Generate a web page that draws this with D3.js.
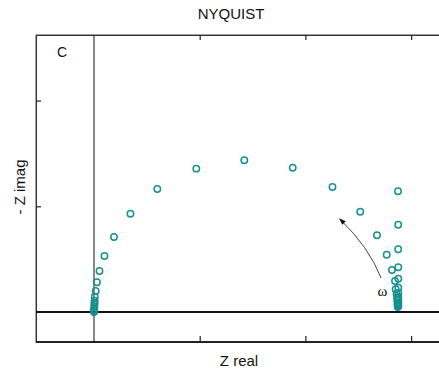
<!DOCTYPE html>
<html>
<head>
<meta charset="utf-8">
<script src="https://cdn.jsdelivr.net/npm/d3@7"></script>
<style>
  html, body { margin: 0; padding: 0; background: #fff; }
  svg { display: block; }
  text { font-family: "Liberation Sans", Arial, sans-serif; fill: #111; }
</style>
</head>
<body>
<svg id="chart" width="439" height="372"></svg>
<script>
// Impedance spectrum: semicircle (parallel RC) and the capacitive branch
const arcZReal = [0.000, 0.000, 0.000, 0.003, 0.004, 0.005, 0.006, 0.007, 0.016, 0.028,
                  0.052, 0.099, 0.189, 0.345, 0.599, 0.968, 1.422, 1.880, 2.256, 2.519,
                  2.677, 2.769, 2.819, 2.848, 2.854, 2.862, 2.867, 2.870, 2.871, 2.873, 2.874];
const arcZImag = [0.000, 0.014, 0.028, 0.047, 0.069, 0.085, 0.107, 0.145, 0.199, 0.281,
                  0.388, 0.530, 0.710, 0.930, 1.164, 1.356, 1.435, 1.365, 1.183, 0.949,
                  0.726, 0.541, 0.397, 0.293, 0.215, 0.173, 0.135, 0.106, 0.080, 0.061, 0.047];
const capZReal = [2.876, 2.878, 2.878, 2.879, 2.879, 2.879, 2.879, 2.879, 2.879, 2.879, 2.879, 2.879];
const capZImag = [1.142, 0.825, 0.593, 0.423, 0.314, 0.230, 0.180, 0.142, 0.114, 0.090, 0.071, 0.057];

const xTicks = [1, 2, 3];
const yTicks = [1, 2];

const svg = d3.select("#chart");
const plotLeft = 36, plotRight = 445, plotTop = 35, plotBottom = 342;

const x = d3.scaleLinear().domain([-0.5487, 3.3207]).range([plotLeft, plotRight]);
const y = d3.scaleLinear().domain([-0.2838, 2.6206]).range([plotBottom, plotTop]);

const markColor = "#17908e";

// frame
svg.append("rect")
  .attr("x", plotLeft).attr("y", plotTop)
  .attr("width", plotRight - plotLeft).attr("height", plotBottom - plotTop)
  .attr("fill", "none").attr("stroke", "#444").attr("stroke-width", 1);

const noLabel = () => "";
svg.append("g").attr("transform", `translate(0,${plotTop})`)
  .call(d3.axisTop(x).tickValues(xTicks).tickSizeInner(-5).tickSizeOuter(0).tickFormat(noLabel));
svg.append("g").attr("transform", `translate(0,${plotBottom})`)
  .call(d3.axisBottom(x).tickValues(xTicks).tickSizeInner(-6).tickSizeOuter(0).tickFormat(noLabel));
svg.append("g").attr("transform", `translate(${plotLeft},0)`)
  .call(d3.axisLeft(y).tickValues(yTicks).tickSizeInner(-5).tickSizeOuter(0).tickFormat(noLabel));
svg.selectAll(".domain").attr("stroke", "#333");
svg.selectAll(".tick line").attr("stroke", "#222").attr("stroke-width", 1.2);

// bottom border drawn heavier
svg.append("line")
  .attr("x1", plotLeft).attr("x2", plotRight).attr("y1", plotBottom).attr("y2", plotBottom)
  .attr("stroke", "#222").attr("stroke-width", 2);

// zero lines
svg.append("line")
  .attr("x1", x(0)).attr("x2", x(0)).attr("y1", plotTop).attr("y2", plotBottom)
  .attr("stroke", "#111").attr("stroke-width", 1);
svg.append("line")
  .attr("x1", plotLeft).attr("x2", plotRight).attr("y1", y(0)).attr("y2", y(0))
  .attr("stroke", "#111").attr("stroke-width", 2);

// data points
const points = arcZReal.map((v, i) => [v, arcZImag[i]])
  .concat(capZReal.map((v, i) => [v, capZImag[i]]));
svg.append("g").selectAll("circle").data(points).join("circle")
  .attr("cx", d => x(d[0])).attr("cy", d => y(d[1]))
  .attr("r", 3.2)
  .attr("fill", "none")
  .attr("stroke", markColor)
  .attr("stroke-width", 1.5);

// frequency direction arrow
const defs = svg.append("defs");
defs.append("marker")
  .attr("id", "head").attr("viewBox", "0 0 10 10")
  .attr("refX", 8).attr("refY", 5)
  .attr("markerWidth", 7).attr("markerHeight", 7)
  .attr("orient", "auto")
  .append("path").attr("d", "M0,1.5 L10,5 L0,8.5 Z").attr("fill", "#111");

const a0 = [2.716, 0.321], ac = [2.602, 0.614], a1 = [2.327, 0.878];
svg.append("path")
  .attr("d", `M${x(a0[0])},${y(a0[1])} Q${x(ac[0])},${y(ac[1])} ${x(a1[0])},${y(a1[1])}`)
  .attr("fill", "none").attr("stroke", "#444").attr("stroke-width", 1)
  .attr("marker-end", "url(#head)");

svg.append("text")
  .attr("x", x(2.729)).attr("y", y(0.15))
  .attr("text-anchor", "middle")
  .style("font-family", "'Liberation Serif', 'Times New Roman', serif")
  .style("font-size", "15px")
  .text("ω");

// titles and labels
svg.append("text").attr("x", 231).attr("y", 18.5)
  .attr("text-anchor", "middle").style("font-size", "15px").text("NYQUIST");
svg.append("text").attr("x", 62).attr("y", 57)
  .attr("text-anchor", "middle").style("font-size", "14px").text("C");
svg.append("text").attr("x", 239).attr("y", 366)
  .attr("text-anchor", "middle").style("font-size", "15px").text("Z real");
svg.append("text")
  .attr("transform", "translate(25,187) rotate(-90)")
  .attr("text-anchor", "middle").style("font-size", "15px").text("- Z imag");
</script>
</body>
</html>
